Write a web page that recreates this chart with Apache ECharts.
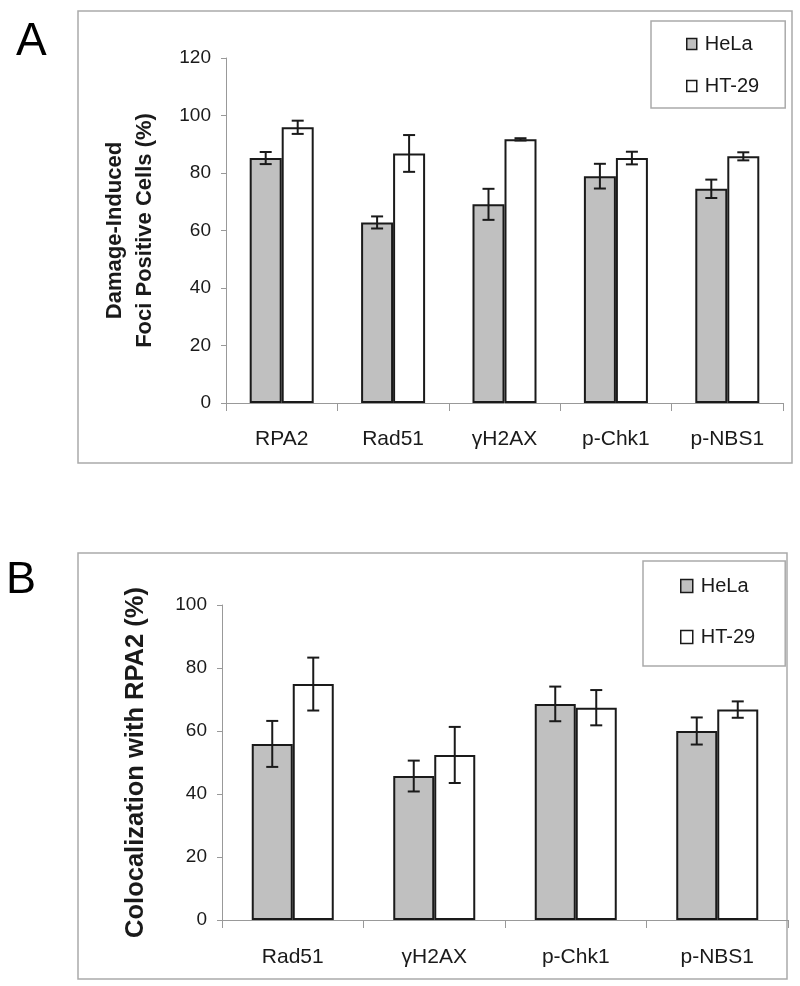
<!DOCTYPE html>
<html>
<head>
<meta charset="utf-8">
<script src="https://cdn.jsdelivr.net/npm/echarts@6/dist/echarts.min.js"></script>
<style>
  html, body { margin: 0; padding: 0; background: #fff; }
  #main { width: 800px; height: 986px; }
</style>
</head>
<body>
<div id="main"></div>
<script>
// panel A: damage-induced foci
var catsA = ['RPA2', 'Rad51', 'γH2AX', 'p-Chk1', 'p-NBS1'];
var helaA = [85.2, 62.8, 69.1, 78.9, 74.5];
var helaErrA = [2.1, 2.1, 5.4, 4.3, 3.2];
var htA = [95.9, 86.8, 91.7, 85.2, 85.8];
var htErrA = [2.3, 6.4, 0.4, 2.2, 1.4];

// panel B: colocalization with RPA2
var catsB = ['Rad51', 'γH2AX', 'p-Chk1', 'p-NBS1'];
var helaB = [55.9, 45.7, 68.6, 60.0];
var helaErrB = [7.3, 4.9, 5.5, 4.3];
var htB = [74.9, 52.4, 67.4, 66.8];
var htErrB = [8.4, 8.9, 5.6, 2.6];

var FONT = '"Liberation Sans", Arial, sans-serif';
var INK = '#1a1a1a';

var chartDom = document.getElementById('main');
var myChart = echarts.init(chartDom);

function errData(vals, errs) {
  return vals.map(function (v, i) { return [i, v, errs[i]]; });
}

function errSeries(idx, vals, errs, shift, cap) {
  return {
    type: 'custom',
    xAxisIndex: idx,
    yAxisIndex: idx,
    z: 5,
    silent: true,
    data: errData(vals, errs),
    renderItem: function (params, api) {
      var c = api.value(0), v = api.value(1), e = api.value(2);
      var x = api.coord([c, v])[0] + shift;
      var top = api.coord([c, v + e])[1];
      var bot = api.coord([c, v - e])[1];
      var st = { stroke: INK, lineWidth: 2 };
      return {
        type: 'group',
        children: [
          { type: 'line', shape: { x1: x, y1: top, x2: x, y2: bot }, style: st },
          { type: 'line', shape: { x1: x - cap, y1: top, x2: x + cap, y2: top }, style: st },
          { type: 'line', shape: { x1: x - cap, y1: bot, x2: x + cap, y2: bot }, style: st }
        ]
      };
    }
  };
}

function barSeries(name, idx, vals, fill, w) {
  return {
    name: name,
    type: 'bar',
    xAxisIndex: idx,
    yAxisIndex: idx,
    barWidth: w,
    barGap: '0%',
    data: vals,
    itemStyle: { color: fill, borderColor: INK, borderWidth: 2 }
  };
}

function xAx(idx, cats, margin) {
  return {
    type: 'category',
    gridIndex: idx,
    data: cats,
    axisLine: { lineStyle: { color: '#999', width: 1 } },
    axisTick: { show: true, length: 8, lineStyle: { color: '#999' } },
    axisLabel: { color: INK, fontSize: 21, fontFamily: FONT, margin: margin }
  };
}

function yAx(idx, max, name, nameSize, gap, lh) {
  return {
    type: 'value',
    gridIndex: idx,
    min: 0,
    max: max,
    interval: 20,
    name: name,
    nameLocation: 'middle',
    nameRotate: 90,
    nameGap: gap,
    nameTextStyle: { color: INK, fontSize: nameSize, fontWeight: 'bold', fontFamily: FONT, lineHeight: lh },
    axisLine: { show: true, lineStyle: { color: '#999', width: 1 } },
    axisTick: { show: true, length: 5, lineStyle: { color: '#999' } },
    splitLine: { show: false },
    axisLabel: { color: INK, fontSize: 19, fontFamily: FONT, margin: 15 }
  };
}

function legendBox(left, top, gap, pad, iw, ih) {
  return {
    orient: 'vertical',
    left: left,
    top: top,
    itemGap: gap,
    itemWidth: iw,
    itemHeight: ih,
    padding: pad,
    borderColor: '#aaa',
    borderWidth: 1.5,
    icon: 'rect',
    data: ['HeLa', 'HT-29'],
    itemStyle: { borderColor: INK, borderWidth: 1.5 },
    textStyle: { color: INK, fontSize: 20, fontFamily: FONT, padding: [0, 0, 0, 3] }
  };
}

var option = {
  animation: false,
  backgroundColor: '#fff',
  graphic: [
    { type: 'rect', shape: { x: 78, y: 11, width: 714, height: 452 }, style: { fill: 'none', stroke: '#aaa', lineWidth: 1.5 } },
    { type: 'rect', shape: { x: 78, y: 553, width: 709, height: 426 }, style: { fill: 'none', stroke: '#aaa', lineWidth: 1.5 } },
    { type: 'text', left: 16, top: 19, style: { text: 'A', fontSize: 46, fontFamily: FONT, fill: '#000' } },
    { type: 'text', left: 6, top: 558, style: { text: 'B', fontSize: 45, fontFamily: FONT, fill: '#000' } }
  ],
  legend: [
    legendBox(651, 21, 22, [13, 26, 12, 35], 10, 11),
    legendBox(643, 561, 31, [15, 30, 19, 37], 12, 13)
  ],
  grid: [
    { left: 226, right: 17, top: 58, height: 345 },
    { left: 222, right: 12, top: 605, height: 315 }
  ],
  xAxis: [xAx(0, catsA, 26), xAx(1, catsB, 27)],
  yAxis: [
    yAx(0, 120, 'Damage-Induced\nFoci Positive Cells (%)', 22, 66, 30),
    yAx(1, 100, 'Colocalization with RPA2 (%)', 25.5, 71, 30)
  ],
  series: [
    barSeries('HeLa', 0, helaA, '#c0c0c0', 32),
    barSeries('HT-29', 0, htA, '#ffffff', 32),
    errSeries(0, helaA, helaErrA, -16, 6),
    errSeries(0, htA, htErrA, 16, 6),
    barSeries('HeLa', 1, helaB, '#c0c0c0', 41),
    barSeries('HT-29', 1, htB, '#ffffff', 41),
    errSeries(1, helaB, helaErrB, -20.5, 6),
    errSeries(1, htB, htErrB, 20.5, 6)
  ]
};

myChart.setOption(option);
window.addEventListener('resize', myChart.resize);
</script>
</body>
</html>
